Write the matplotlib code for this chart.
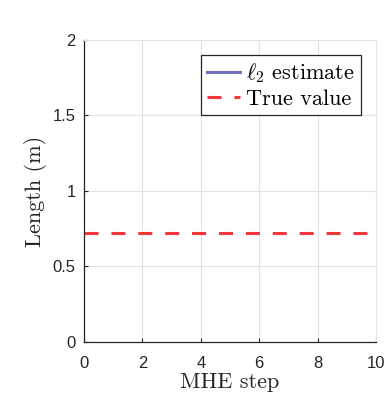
import matplotlib
matplotlib.use("Agg")
import matplotlib.pyplot as plt

# data
est_steps = []          # l2 estimate: nothing drawn in the reference
est_length = []
true_steps = [0, 10]
true_length = [0.72, 0.72]

xticks = [0, 2, 4, 6, 8, 10]
yticks = [0, 0.5, 1, 1.5, 2]
ytick_labels = ["0", "0.5", "1", "1.5", "2"]

plt.rcParams["mathtext.fontset"] = "cm"
plt.rcParams["font.family"] = "Liberation Sans"

fig = plt.figure(figsize=(3.88, 3.96), dpi=100)
ax = fig.add_axes([0.2165, 0.1364, 0.7526, 0.7626])

ax.plot(est_steps, est_length, color="#7272b8", lw=2.2, label=r"$\ell_2$ estimate")
ax.plot(true_steps, true_length, color="#f2383c", lw=2.2, dashes=(4.6, 4.2),
        label="True value")

ax.set_xlim(0, 10)
ax.set_ylim(0, 2)
ax.set_xticks(xticks)
ax.set_yticks(yticks)
ax.set_yticklabels(ytick_labels)
ax.grid(True, color="#e3e3e3", lw=0.8)
ax.set_axisbelow(True)

for s in ["top", "right"]:
    ax.spines[s].set_color("#e3e3e3")
for s in ["left", "bottom"]:
    ax.spines[s].set_color("#262626")
    ax.spines[s].set_linewidth(0.9)
ax.tick_params(direction="in", length=3, width=0.8, colors="#262626",
               labelsize=12)
ax.tick_params(axis="x", pad=10)
ax.tick_params(axis="y", pad=6)

ax.set_xlabel("MHE step", family="cmr10", fontsize=16, color="#262626", labelpad=1)
ax.set_ylabel("Length (m)", family="cmr10", fontsize=16, color="#262626", labelpad=4)

leg = ax.legend(loc="upper right", prop={"family": "cmr10", "size": 16},
                frameon=True, fancybox=False, framealpha=1, edgecolor="#262626",
                handlelength=1.5, handletextpad=0.25, borderpad=0.28,
                labelspacing=0.2, borderaxespad=0.68)
leg.get_frame().set_linewidth(0.9)

fig.savefig("out.png", dpi=100)
